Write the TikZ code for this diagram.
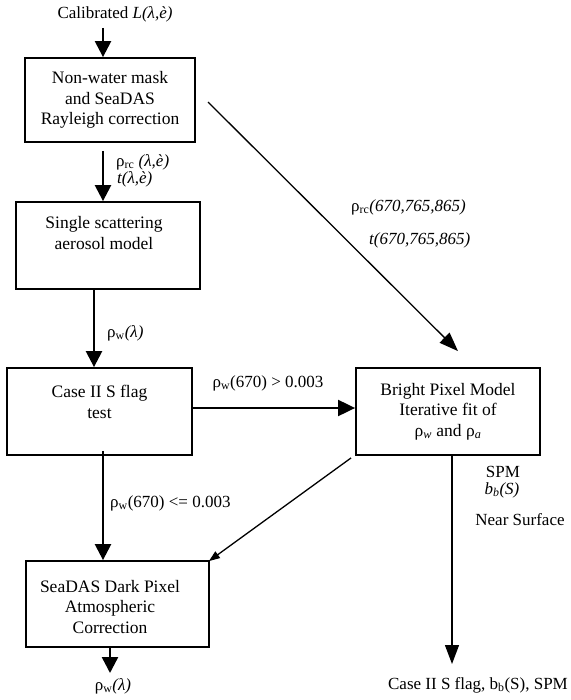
\documentclass[tikz,border=0pt]{standalone}
\usepackage{fontspec}
\setmainfont{Liberation Serif}
\usetikzlibrary{arrows.meta}

\begin{document}
\begin{tikzpicture}[x=1pt,y=-1pt,
  box/.style={draw, line width=1.8pt, minimum width=184pt, minimum height=87pt,
    align=center, font=\fontsize{17.5}{20.5}\selectfont},
  txt/.style={align=center, font=\fontsize{17.5}{20.5}\selectfont},
  lbl/.style={inner sep=0pt, font=\fontsize{17}{20}\selectfont},
  thickarr/.style={line width=2.4pt, -{Triangle[length=16pt,width=16pt]}},
  thinarr/.style={line width=1.3pt, -{Triangle[length=19pt,width=14pt]}}]
\useasboundingbox (0,0) rectangle (570,700);
%\draw [color=gray, very thin] (0,0) grid[step=50] (570,700);

% boxes
\node [box, minimum width=170pt, minimum height=84pt] (mask) at (110,100)
  {Non-water mask\\and SeaDAS\\Rayleigh correction};
\node [box] (scat) at (108,245.5) {};
\node [txt] (scattxt) at (104,233) {Single scattering\\aerosol model};
\node [box, minimum width=185pt] (flag) at (99.5,411.5) {};
\node [txt] (flagtxt) at (99.5,402) {Case II S flag\\test};
\node [box, minimum width=183pt, minimum height=86pt] (dark) at (117.5,604) {};
\node [txt] (darktxt) at (110,607) {SeaDAS Dark Pixel\\Atmospheric\\Correction};
\node [box] (bright) at (448,411.5)
  {Bright Pixel Model\\Iterative fit of\\ρ\textsubscript{\textit{w}} and ρ\textsubscript{\textit{a}}};

% input and outputs
\coordinate (in) at (103,28);
\node [lbl] (calib) at (115,14) {Calibrated \textit{L(λ,è)}};
\coordinate (outl) at (110,673);
\node [lbl] (rhowout) at (113,686) {ρ\textsubscript{w}\textit{(λ)}};
\coordinate (res) at (452,664);
\node [lbl] (flagout) at (478,685) {Case II S flag, b\textsubscript{b}(S), SPM};
\coordinate (diag) at (208,102);

% left column
\draw [thickarr] (in) -- (in |- mask.north);
\draw [thickarr, shorten <=8pt] (mask.south -| in) -- (scat.north -| in);
\node [lbl, anchor=west] (rhorc) at (116,162) {ρ\textsubscript{rc} \textit{(λ,è)}};
\node [lbl, anchor=west] (tl) at (117,179) {\textit{t(λ,è)}};
\draw [thickarr] ([xshift=-14pt]scat.south) -- ([xshift=-14pt]scat.south |- flag.north);
\node [lbl, anchor=west] (rhow) at (107,333) {ρ\textsubscript{w}\textit{(λ)}};
\draw [thickarr, shorten <=-5pt] ([xshift=3.5pt]flag.south) -- ([xshift=3.5pt]flag.south |- dark.north);
\node [lbl, anchor=west] (low) at (110,503) {ρ\textsubscript{w}(670) <= 0.003};
\draw [thickarr] (dark.south -| outl) -- (outl);

% right column
\draw [line width=2pt, -{Triangle[length=17pt,width=16pt]}] ([yshift=3.5pt]flag.east) -- ([yshift=3.5pt]flag.east -| bright.west);
\node [lbl] (high) at (268,383) {ρ\textsubscript{w}(670) > 0.003};
\draw [thinarr] (diag) -- ([shift={(10pt,16pt)}]bright.north);
\node [lbl, anchor=west] (rhorc2) at (351,207) {ρ\textsubscript{rc}\textit{(670,765,865)}};
\node [lbl, anchor=west] (t2) at (369,240) {\textit{t(670,765,865)}};
\draw [line width=1.3pt, -{Triangle[length=11pt,width=8pt]}] ([shift={(-4pt,-2pt)}]bright.south west) -- ([shift={(-1pt,-1pt)}]dark.north east);
\draw [thinarr] (bright.south -| res) -- (res);
\node [lbl] (spm) at (503,472) {SPM};
\node [lbl] (bbs) at (502,490) {\textit{b\textsubscript{b}(S)}};
\node [lbl] (near) at (520,520) {Near Surface};
\end{tikzpicture}
\end{document}
